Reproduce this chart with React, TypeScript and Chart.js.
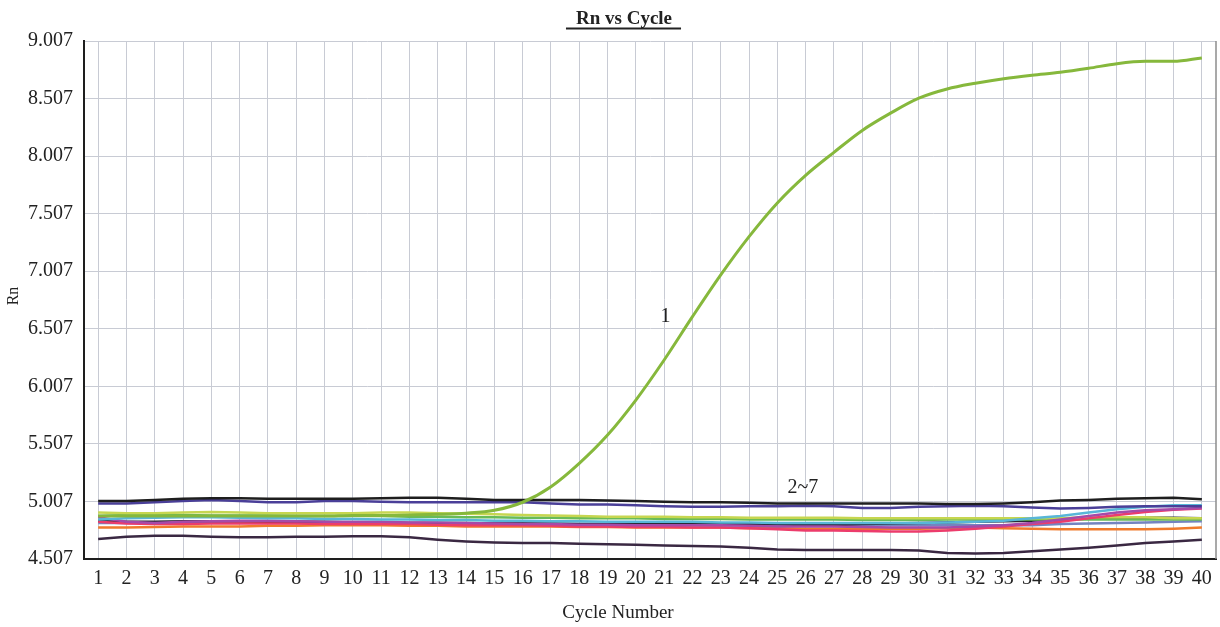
import React, { useEffect, useRef } from "react";
import { Chart, registerables } from "chart.js";

Chart.register(...registerables);

const CYCLES = ["1","2","3","4","5","6","7","8","9","10","11","12","13","14","15","16","17","18","19","20","21","22","23","24","25","26","27","28","29","30","31","32","33","34","35","36","37","38","39","40"];

const Y_TICKS = [4.507, 5.007, 5.507, 6.007, 6.507, 7.007, 7.507, 8.007, 8.507, 9.007];

const SAMPLE_1 = [4.88,4.88,4.88,4.88,4.88,4.88,4.88,4.88,4.88,4.885,4.885,4.89,4.895,4.905,4.93,5.0,5.135,5.338,5.584,5.888,6.236,6.612,6.975,7.307,7.6,7.84,8.04,8.23,8.38,8.51,8.59,8.64,8.68,8.71,8.735,8.77,8.81,8.83,8.83,8.86];

const BLACK_TOP = [5.01,5.01,5.02,5.03,5.035,5.035,5.03,5.03,5.03,5.03,5.035,5.04,5.04,5.03,5.02,5.02,5.02,5.02,5.015,5.01,5.005,5.0,5.0,4.995,4.99,4.99,4.99,4.99,4.99,4.99,4.985,4.985,4.99,5.0,5.015,5.02,5.03,5.035,5.04,5.025];
const INDIGO = [4.99,4.99,5.0,5.01,5.02,5.01,5.0,5.0,5.01,5.01,5.005,5.0,5.0,5.0,5.0,5.0,4.99,4.98,4.98,4.975,4.965,4.96,4.96,4.965,4.965,4.97,4.965,4.95,4.95,4.96,4.965,4.97,4.965,4.955,4.945,4.95,4.96,4.965,4.965,4.965];
const LIME = [4.91,4.905,4.905,4.91,4.915,4.91,4.905,4.905,4.905,4.905,4.91,4.91,4.905,4.9,4.895,4.89,4.885,4.88,4.875,4.875,4.875,4.87,4.87,4.865,4.865,4.865,4.865,4.86,4.86,4.86,4.86,4.86,4.86,4.86,4.86,4.87,4.87,4.87,4.86,4.86];
const GREEN = [4.88,4.89,4.89,4.89,4.885,4.885,4.885,4.88,4.88,4.88,4.88,4.875,4.875,4.87,4.87,4.865,4.865,4.86,4.86,4.86,4.855,4.855,4.855,4.85,4.85,4.85,4.85,4.845,4.845,4.845,4.85,4.85,4.85,4.85,4.85,4.85,4.85,4.85,4.85,4.85];
const CYAN = [4.85,4.86,4.865,4.87,4.87,4.865,4.86,4.86,4.855,4.855,4.85,4.85,4.845,4.845,4.84,4.84,4.835,4.835,4.83,4.83,4.83,4.83,4.825,4.825,4.82,4.82,4.82,4.82,4.82,4.82,4.825,4.83,4.84,4.86,4.88,4.91,4.94,4.96,4.975,4.975];
const MAGENTA = [4.87,4.83,4.82,4.83,4.835,4.84,4.84,4.835,4.83,4.83,4.83,4.825,4.825,4.82,4.815,4.81,4.81,4.805,4.805,4.8,4.8,4.8,4.8,4.795,4.79,4.79,4.79,4.785,4.78,4.78,4.78,4.79,4.8,4.82,4.85,4.88,4.91,4.93,4.94,4.95];
const PINK = [4.83,4.815,4.81,4.81,4.815,4.815,4.815,4.815,4.81,4.81,4.81,4.81,4.805,4.8,4.8,4.8,4.795,4.79,4.79,4.785,4.785,4.78,4.78,4.775,4.765,4.755,4.755,4.75,4.745,4.745,4.755,4.77,4.79,4.81,4.83,4.86,4.89,4.915,4.935,4.945];
const GRAYBLUE = [4.82,4.82,4.825,4.825,4.83,4.83,4.83,4.83,4.825,4.825,4.82,4.82,4.82,4.815,4.815,4.815,4.81,4.81,4.81,4.81,4.805,4.805,4.8,4.8,4.8,4.8,4.8,4.8,4.8,4.8,4.8,4.8,4.8,4.8,4.81,4.815,4.82,4.825,4.83,4.835];
const BLACK_MID = [4.84,4.83,4.83,4.835,4.835,4.835,4.83,4.83,4.83,4.825,4.825,4.82,4.82,4.82,4.815,4.815,4.815,4.81,4.81,4.81,4.81,4.81,4.81,4.81,4.81,4.8,4.8,4.81,4.815,4.82,4.825,4.83,4.835,4.84,4.85,4.86,4.865,4.865,4.865,4.86];
const ORANGE = [4.78,4.78,4.785,4.79,4.79,4.79,4.795,4.795,4.8,4.8,4.8,4.795,4.795,4.79,4.79,4.79,4.79,4.785,4.785,4.78,4.78,4.78,4.78,4.775,4.775,4.77,4.77,4.77,4.77,4.77,4.775,4.78,4.775,4.77,4.765,4.765,4.765,4.765,4.77,4.78];
const BOTTOM = [4.68,4.70,4.71,4.71,4.70,4.695,4.695,4.7,4.7,4.705,4.705,4.695,4.675,4.66,4.65,4.645,4.645,4.64,4.635,4.63,4.625,4.62,4.615,4.605,4.59,4.585,4.585,4.585,4.585,4.58,4.56,4.555,4.56,4.575,4.59,4.605,4.625,4.645,4.66,4.675];

const ANNOTATIONS = [
  { text: "1", x: 20.05, y: 6.61 },
  { text: "2~7", x: 24.9, y: 5.13 },
];

const SERIF = '"Liberation Serif", "DejaVu Serif", serif';

const decorPlugin = {
  id: "decor",
  afterDraw(chart: any) {
    const { ctx, chartArea, scales } = chart;
    ctx.save();
    // right border
    ctx.strokeStyle = "#8c8c8c";
    ctx.lineWidth = 1.5;
    ctx.beginPath();
    ctx.moveTo(chartArea.right, chartArea.top);
    ctx.lineTo(chartArea.right, chartArea.bottom);
    ctx.stroke();

    ctx.fillStyle = "#222";
    ctx.textAlign = "center";
    ctx.textBaseline = "middle";
    // annotations
    ctx.font = `20px ${SERIF}`;
    for (const a of ANNOTATIONS) {
      ctx.fillText(a.text, scales.x.getPixelForValue(a.x), scales.y.getPixelForValue(a.y));
    }
    // title
    ctx.font = `bold 19px ${SERIF}`;
    const tx = 624;
    ctx.fillText("Rn vs Cycle", tx, 19);
    const w = ctx.measureText("Rn vs Cycle").width;
    ctx.strokeStyle = "#222";
    ctx.lineWidth = 2;
    ctx.beginPath();
    ctx.moveTo(tx - w / 2 - 10, 28.5);
    ctx.lineTo(tx + w / 2 + 9, 28.5);
    ctx.stroke();
    // x axis title
    ctx.font = `19px ${SERIF}`;
    ctx.fillText("Cycle Number", 618, 613);
    // y axis title
    ctx.font = `16px ${SERIF}`;
    ctx.translate(14, 296);
    ctx.rotate(-Math.PI / 2);
    ctx.fillText("Rn", 0, 0);
    ctx.restore();
  },
};

function line(label: string, data: number[], color: string, width = 2.5) {
  return {
    label,
    data,
    borderColor: color,
    backgroundColor: color,
    borderWidth: width,
    pointRadius: 0,
    tension: 0,
    fill: false,
  };
}

export default function App() {
  const ref = useRef<HTMLCanvasElement | null>(null);
  useEffect(() => {
    if (!ref.current) return;
    const chart = new Chart(ref.current, {
      type: "line",
      data: {
        labels: CYCLES,
        datasets: [
          { ...line("1", SAMPLE_1, "#86b83c", 3), tension: 0.35, cubicInterpolationMode: "monotone" } as any,
          line("a", BLACK_TOP, "#1e1e1e"),
          line("b", INDIGO, "#4a3f98"),
          line("c", CYAN, "#58b6d8"),
          line("d", MAGENTA, "#a64aa8"),
          line("e", PINK, "#ec3c6c"),
          line("f", LIME, "#c6d650"),
          line("g", GREEN, "#68bb58"),
          line("h", BLACK_MID, "#2a2a36"),
          line("i", GRAYBLUE, "#7484c0"),
          line("j", ORANGE, "#f07a2c"),
          line("k", BOTTOM, "#3a2842"),
        ],
      },
      options: {
        responsive: false,
        animation: false,
        layout: { padding: { top: 41, right: 4, bottom: 0, left: 0 } },
        plugins: {
          legend: { display: false },
          title: { display: false },
          tooltip: { enabled: false },
        },
        scales: {
          x: {
            type: "category",
            offset: true,
            afterFit: (s: any) => { s.height = 68; },
            grid: { offset: false, color: "#c8cbd4", lineWidth: 1, drawTicks: false },
            border: { color: "#1e1e1e", width: 2 },
            ticks: {
              autoSkip: false,
              maxRotation: 0,
              minRotation: 0,
              padding: 8,
              color: "#222",
              font: { family: SERIF, size: 20 },
            },
          },
          y: {
            type: "linear",
            min: 4.507,
            max: 9.007,
            afterFit: (s: any) => { s.width = 84; },
            afterBuildTicks: (s: any) => { s.ticks = Y_TICKS.map((v) => ({ value: v })); },
            grid: { color: "#c8cbd4", lineWidth: 1, drawTicks: false },
            border: { color: "#1e1e1e", width: 2 },
            ticks: {
              padding: 11,
              color: "#222",
              font: { family: SERIF, size: 20 },
              callback: (v: any) => Number(v).toFixed(3),
            },
          },
        },
      },
      plugins: [decorPlugin],
    });
    return () => chart.destroy();
  }, []);
  return (
    <div style={{ position: "fixed", left: 0, top: 0, width: 1220, height: 627, background: "#fff" }}>
      <canvas ref={ref} width={1220} height={627} style={{ display: "block" }} />
    </div>
  );
}
